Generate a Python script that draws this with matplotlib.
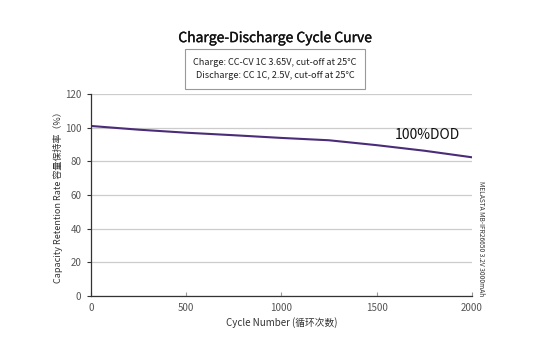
import matplotlib
matplotlib.use("Agg")
import matplotlib.pyplot as plt
import matplotlib.patheffects as pe

plt.rcParams['font.family'] = ['Noto Sans CJK SC', 'DejaVu Sans']

cycles = [0, 250, 500, 750, 1000, 1250, 1500, 1750, 2000]
retention = [101, 98.8, 97.0, 95.5, 93.9, 92.5, 89.6, 86.3, 82.4]

x_ticks = [0, 500, 1000, 1500, 2000]
y_ticks = [0, 20, 40, 60, 80, 100, 120]

fig = plt.figure(figsize=(5.5, 3.56), dpi=100)
ax = fig.add_axes([0.1655, 0.1685, 0.6925, 0.5675])

ax.plot(cycles, retention, color='#4a2c78', linewidth=1.5)

ax.set_xlim(0, 2000)
ax.set_ylim(0, 120)
ax.set_xticks(x_ticks)
ax.set_yticks(y_ticks)
ax.grid(axis='y', color='#cccccc', linewidth=0.9)
ax.set_axisbelow(True)
for s in ['top', 'right']:
    ax.spines[s].set_visible(False)
for s in ['left', 'bottom']:
    ax.spines[s].set_color('#333333')
    ax.spines[s].set_linewidth(0.9)
ax.tick_params(axis='x', direction='in', length=3, colors='#999999', labelcolor='#555555', labelsize=7, pad=5)
ax.tick_params(axis='y', direction='out', length=3, colors='#333333', labelcolor='#555555', labelsize=7, pad=4)

ax.set_xlabel('Cycle Number (循环次数)', fontsize=7, color='#333333', labelpad=3)
ax.set_ylabel('Capacity Retention Rate 容量保持率（%）', fontsize=6.5, color='#333333', labelpad=1)

ax.text(1596, 95.5, '100%DOD', fontsize=10, color='#111111', ha='left', va='center')

# title a bit heavier than regular, like the original
fig.text(0.5, 0.893, 'Charge-Discharge Cycle Curve', fontsize=10,
         ha='center', va='center', color='#111111',
         path_effects=[pe.withStroke(linewidth=0.25, foreground='#111111')])
fig.text(0.5, 0.806, 'Charge: CC-CV 1C 3.65V, cut-off at 25°C\nDischarge: CC 1C, 2.5V, cut-off at 25°C',
         fontsize=6.6, ha='center', va='center', color='#222222', linespacing=1.6,
         bbox=dict(boxstyle='square,pad=0.95', facecolor='white', edgecolor='#999999', linewidth=0.8))

fig.text(0.875, 0.331, 'MELASTA MB-IFR26650 3.2V 3000mAh', fontsize=4.8, rotation=-90,
         ha='center', va='center', color='#333333')

fig.savefig('out.png', dpi=100)
